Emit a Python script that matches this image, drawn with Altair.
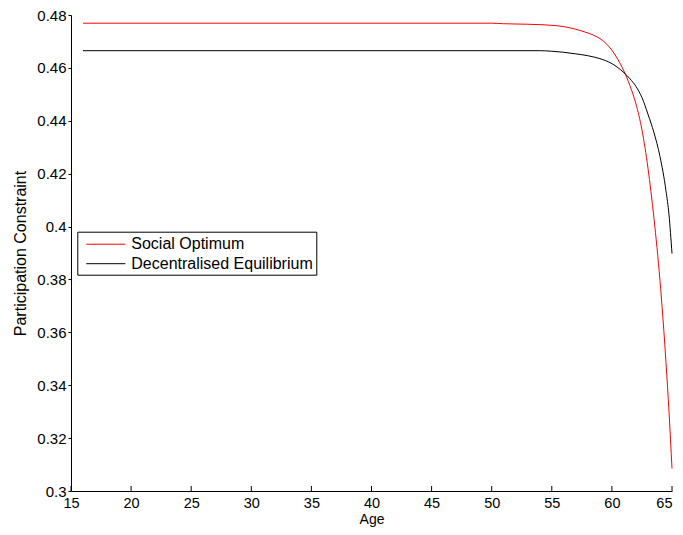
import altair as alt
import pandas as pd

# Social Optimum (red)
ages_so = [16, 50, 51, 53, 55, 56, 57, 58, 58.5, 59, 59.5, 60, 60.5, 61, 61.5,
           62, 62.5, 63, 63.5, 64, 64.25, 64.5, 64.75, 65]
vals_so = [0.4769, 0.4769, 0.4767, 0.4765, 0.4761, 0.4756, 0.4746, 0.4732,
           0.4723, 0.4711, 0.4693, 0.4667, 0.4632, 0.4588, 0.4533, 0.4464,
           0.4366, 0.4221, 0.4031, 0.3796, 0.3651, 0.3486, 0.3301, 0.3085]

# Decentralised Equilibrium (black)
ages_de = [16, 54, 55, 56, 57, 58, 59, 59.5, 60, 60.5, 61, 61.5, 62, 62.5,
           63, 63.5, 64, 64.5, 64.75, 65]
vals_de = [0.4665, 0.4665, 0.4663, 0.4659, 0.4653, 0.4646, 0.4635, 0.4627,
           0.4616, 0.4601, 0.4582, 0.4559, 0.4530, 0.4488, 0.4425, 0.4355,
           0.4265, 0.4135, 0.4045, 0.3898]

series_names = ["Social Optimum", "Decentralised Equilibrium"]
series_colors = ["#ff0000", "#000000"]

x_ticks = [15, 20, 25, 30, 35, 40, 45, 50, 55, 60, 65]
y_ticks = [0.3, 0.32, 0.34, 0.36, 0.38, 0.4, 0.42, 0.44, 0.46, 0.48]

df = pd.concat([
    pd.DataFrame({"age": ages_so, "val": vals_so, "series": series_names[0], "k": 0}),
    pd.DataFrame({"age": ages_de, "val": vals_de, "series": series_names[1], "k": 1}),
], ignore_index=True)

W, H = 601, 476
FONT = "Liberation Sans"

xscale = alt.Scale(domain=[15, 65], nice=False, zero=False)
yscale = alt.Scale(domain=[0.3, 0.48], nice=False, zero=False)

lines = alt.Chart(df).mark_line(strokeWidth=1, interpolate="monotone").encode(
    x=alt.X("age:Q", scale=xscale,
            axis=alt.Axis(values=x_ticks, title="Age", tickSize=0,
                          labelPadding=5, labelFontSize=14.5,
                          titleBaseline="top", titleY=21,
                          titleFontSize=14, labelFlush=False,
                          labelAlign=alt.ConditionalAxisLabelAlign(
                              condition={"test": "datum.value >= 65", "value": "right"},
                              value="center"))),
    y=alt.Y("val:Q", scale=yscale,
            axis=alt.Axis(values=y_ticks, format="~g",
                          title="Participation Constraint", tickSize=3,
                          labelPadding=2, titlePadding=8, titleFontSize=16)),
    color=alt.Color("series:N",
                    scale=alt.Scale(domain=series_names, range=series_colors),
                    legend=alt.Legend(title=None, orient="none",
                                      legendX=6.3, legendY=216.7,
                                      strokeColor="black", fillColor="white",
                                      padding=3, symbolOffset=16,
                                      symbolType="M-2.17,0H2.17",
                                      symbolSize=324, symbolStrokeWidth=1,
                                      labelFontSize=16, labelFont=FONT,
                                      labelColor="black", labelOffset=16,
                                      labelLimit=0, rowPadding=1.5)),
    detail="k:N",
)

xtick_df = pd.DataFrame({"t": x_ticks})
xticks = alt.Chart(xtick_df).mark_rule(color="black", strokeWidth=1).encode(
    x=alt.X("t:Q", scale=xscale),
    y=alt.value(H),
    y2=alt.value(H - 5),
)

chart = alt.layer(lines, xticks).properties(
    width=W, height=H,
    padding={"left": 63, "top": 7, "right": 3, "bottom": 36},
    autosize=alt.AutoSizeParams(type="none"),
    background="white",
).configure(font=FONT).configure_axis(
    labelFontSize=15, titleFontSize=15, labelColor="black", titleColor="black",
    domainColor="black", tickColor="black", grid=False,
    titleFontWeight="normal", labelFont=FONT, titleFont=FONT,
).configure_view(stroke=None)

chart.save("out.html", embed_options={"renderer": "svg", "actions": False})
